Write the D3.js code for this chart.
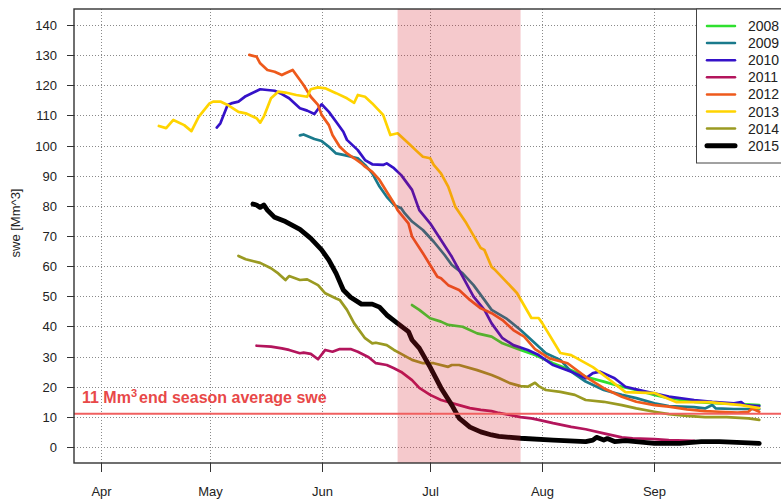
<!DOCTYPE html>
<html>
<head>
<meta charset="utf-8">
<script src="https://cdn.jsdelivr.net/npm/d3@7"></script>
<style>
  html, body { margin: 0; padding: 0; background: #fff; }
  svg { display: block; font-family: "Liberation Sans", Arial, Helvetica, sans-serif; }
</style>
</head>
<body>
<svg id="chart" width="781" height="499"></svg>
<script>
// Snow water equivalent per season, [month-day, swe in Mm^3]
const swe2008 = [["06-26",47.1],["06-28",45.5],["07-01",42.7],["07-04",41.6],["07-06",40.5],["07-10",39.9],["07-14",37.7],["07-18",36.6],["07-21",34.4],["07-26",32.2],["07-30",30.5],["08-04",27.8],["08-09",25.5],["08-13",23.3],["08-18",21.7],["08-23",20.0],["08-27",18.9],["09-01",17.3],["09-05",16.2],["09-12",15.0],["09-19",14.5],["09-24",14.3],["09-30",13.9]];
const swe2009 = [["05-26",103.4],["05-27",103.7],["05-30",102.2],["06-01",101.5],["06-03",99.6],["06-05",97.4],["06-07",96.9],["06-11",95.8],["06-13",93.6],["06-15",90.8],["06-17",86.4],["06-19",83.0],["06-21",80.3],["06-23",79.2],["06-24",77.5],["06-26",74.8],["06-29",72.0],["07-02",68.1],["07-05",63.7],["07-07",60.4],["07-10",57.6],["07-13",53.7],["07-16",48.8],["07-18",45.5],["07-22",42.7],["07-26",38.8],["07-30",34.4],["08-02",31.1],["08-06",28.9],["08-09",25.0],["08-13",21.7],["08-18",18.9],["08-23",17.3],["08-27",16.2],["09-01",14.5],["09-05",13.6],["09-12",13.2],["09-15",12.8],["09-17",13.9],["09-18",12.8],["09-23",12.6],["09-30",12.6]];
const swe2010 = [["05-03",106.0],["05-04",107.4],["05-06",113.5],["05-07",114.0],["05-09",114.6],["05-11",116.4],["05-15",118.7],["05-19",118.2],["05-21",117.1],["05-23",115.7],["05-26",112.4],["05-28",111.6],["05-30",110.5],["06-01",113.7],["06-03",111.2],["06-05",107.9],["06-07",104.6],["06-08",101.9],["06-11",98.5],["06-13",95.2],["06-15",93.8],["06-18",93.6],["06-19",94.1],["06-21",92.5],["06-23",90.2],["06-26",85.3],["06-28",78.6],["07-01",74.2],["07-04",68.7],["07-07",63.1],["07-10",56.5],["07-13",49.9],["07-16",45.5],["07-18",41.0],["07-21",36.1],["07-24",33.8],["07-28",32.2],["07-31",30.5],["08-04",27.2],["08-09",25.0],["08-13",22.8],["08-15",24.5],["08-17",25.0],["08-21",22.8],["08-24",20.0],["08-30",18.3],["09-05",16.7],["09-12",15.6],["09-17",15.0],["09-23",14.5],["09-25",14.9],["09-26",13.9],["09-30",13.6]];
const swe2011 = [["05-14",33.6],["05-18",33.3],["05-21",32.7],["05-23",32.2],["05-26",31.1],["05-27",31.3],["05-29",30.9],["05-31",29.1],["06-02",32.2],["06-04",31.6],["06-06",32.5],["06-09",32.5],["06-11",31.6],["06-14",29.8],["06-16",27.8],["06-19",27.2],["06-21",26.1],["06-23",24.9],["06-26",22.2],["06-28",19.6],["07-01",17.3],["07-04",15.6],["07-07",14.6],["07-09",13.9],["07-12",12.9],["07-15",12.3],["07-18",11.9],["07-20",11.3],["07-23",10.6],["07-26",9.9],["07-29",9.5],["07-31",9.0],["08-04",7.9],["08-09",6.7],["08-13",5.9],["08-18",4.5],["08-23",3.2],["08-26",2.9],["09-01",2.6],["09-05",2.3],["09-12",2.0]];
const swe2012 = [["05-12",130.1],["05-14",129.5],["05-15",127.3],["05-17",125.1],["05-19",124.5],["05-21",123.4],["05-22",124.0],["05-24",125.1],["05-25",123.4],["05-27",120.1],["05-29",116.2],["05-31",113.5],["06-01",110.2],["06-03",106.8],["06-04",103.5],["06-06",99.6],["06-08",97.4],["06-10",95.8],["06-12",94.1],["06-13",93.0],["06-15",91.3],["06-17",88.6],["06-19",84.7],["06-21",80.9],["06-22",78.6],["06-25",74.2],["06-26",69.8],["06-29",64.3],["07-01",60.4],["07-03",56.5],["07-04",56.0],["07-06",53.7],["07-09",52.1],["07-12",48.8],["07-15",46.0],["07-18",44.4],["07-21",42.1],["07-24",38.8],["07-27",36.6],["07-30",32.5],["08-03",29.4],["08-08",27.8],["08-13",23.3],["08-18",19.5],["08-23",16.7],["08-27",15.0],["09-01",13.9],["09-05",13.4],["09-10",12.5],["09-15",11.9],["09-19",11.7],["09-24",11.4],["09-27",11.7],["09-28",12.8],["09-30",11.7]];
const swe2013 = [["04-17",106.5],["04-19",105.8],["04-21",108.5],["04-24",106.8],["04-26",104.8],["04-28",109.5],["05-01",114.0],["05-02",114.6],["05-04",114.6],["05-06",113.5],["05-09",111.2],["05-11",110.7],["05-14",109.1],["05-15",107.6],["05-16",109.6],["05-18",115.7],["05-20",117.9],["05-22",117.6],["05-25",116.8],["05-28",116.2],["05-29",118.7],["05-31",119.3],["06-02",119.0],["06-05",117.4],["06-08",115.7],["06-10",114.2],["06-11",116.8],["06-13",116.2],["06-15",114.0],["06-18",110.2],["06-20",103.5],["06-22",104.1],["06-25",100.8],["06-27",98.5],["06-29",96.3],["07-01",95.8],["07-02",93.6],["07-04",90.8],["07-06",86.4],["07-07",83.0],["07-08",79.6],["07-11",74.3],["07-15",66.0],["07-16",65.4],["07-18",59.7],["07-19",58.7],["07-25",51.1],["07-29",42.8],["07-31",42.8],["08-01",41.1],["08-06",31.2],["08-09",30.5],["08-15",26.5],["08-19",22.9],["08-24",18.2],["09-01",17.9],["09-07",14.9],["09-16",14.9],["09-25",13.9],["09-30",12.9]];
const swe2014 = [["05-09",63.4],["05-11",62.3],["05-15",61.1],["05-18",59.3],["05-20",57.6],["05-22",55.4],["05-23",56.7],["05-26",55.4],["05-28",55.6],["05-31",53.7],["06-02",51.0],["06-05",49.3],["06-06",48.8],["06-08",45.5],["06-10",41.0],["06-13",36.1],["06-15",34.4],["06-16",34.6],["06-19",33.8],["06-21",32.2],["06-23",30.9],["06-26",28.9],["06-29",27.8],["07-02",27.8],["07-06",26.6],["07-07",27.2],["07-09",27.2],["07-14",25.5],["07-18",23.9],["07-20",22.9],["07-23",21.2],["07-26",20.2],["07-28",20.0],["07-30",21.3],["07-31",20.2],["08-02",18.9],["08-06",18.3],["08-10",17.3],["08-13",15.6],["08-18",15.0],["08-23",13.9],["08-27",12.8],["09-01",11.7],["09-05",10.9],["09-10",10.3],["09-15",9.9],["09-21",9.9],["09-27",9.5],["09-30",9.0]];
const swe2015 = [["05-13",80.6],["05-14",80.3],["05-15",79.5],["05-16",80.3],["05-17",78.6],["05-19",76.2],["05-22",74.8],["05-26",72.2],["05-29",69.2],["06-01",65.4],["06-03",62.0],["06-05",57.6],["06-07",52.1],["06-09",49.7],["06-12",47.4],["06-15",47.4],["06-17",46.4],["06-19",43.8],["06-22",41.0],["06-25",38.3],["06-26",35.5],["06-28",32.8],["07-01",26.5],["07-04",19.6],["07-07",13.9],["07-09",9.6],["07-12",6.6],["07-15",5.0],["07-18",4.0],["07-20",3.5],["07-26",2.9],["08-04",2.3],["08-13",1.8],["08-15",2.3],["08-16",3.2],["08-18",2.3],["08-19",2.8],["08-21",1.8],["08-24",2.1],["09-01",1.2],["09-08",1.2],["09-14",1.8],["09-19",1.8],["09-27",1.4],["09-30",1.2]];

const years = ["2008","2009","2010","2011","2012","2013","2014","2015"];
const seriesData = [swe2008, swe2009, swe2010, swe2011, swe2012, swe2013, swe2014, swe2015];
const colors = ["#2fe02f","#1a7a8c","#3512c8","#b3155c","#ee5a1c","#ffd400","#9a9a22","#000000"];
const widths = [2.7,2.7,2.7,2.7,2.7,2.7,2.7,4.8];

const monthTicks = ["04-01","05-01","06-01","07-01","08-01","09-01"];
const yTicks = [0,10,20,30,40,50,60,70,80,90,100,110,120,130,140];
const shadePeriod = ["06-22","07-26"];
const avgEndSwe = 11;

const parse = s => d3.utcParse("%Y-%m-%d")("2015-" + s);
const dayMs = 864e5;

const svg = d3.select("#chart");
const L = 74, R = 790, T = 9, B = 463;

const apr1 = parse("04-01");
const x = d3.scaleUtc()
  .domain([new Date(+apr1 - 7.47 * dayMs), new Date(+apr1 + 190.5 * dayMs)])
  .range([L, R]);
const y = d3.scaleLinear().domain([-5.31, 145.32]).range([B, T]);

// dotted grid
const grid = svg.append("g").attr("stroke", "#8a8a8a").attr("stroke-width", 1)
  .attr("stroke-dasharray", "1,2").attr("fill", "none");
yTicks.forEach(v => {
  grid.append("line").attr("x1", L).attr("x2", R)
    .attr("y1", Math.round(y(v)) + 0.5).attr("y2", Math.round(y(v)) + 0.5);
});
monthTicks.forEach(m => {
  const xx = Math.round(x(parse(m))) + 0.5;
  grid.append("line").attr("x1", xx).attr("x2", xx).attr("y1", T).attr("y2", B);
});

// season curves
const line = d3.line().x(d => x(parse(d[0]))).y(d => y(d[1]));
const curves = svg.append("g").attr("fill", "none")
  .attr("stroke-linejoin", "round").attr("stroke-linecap", "round");
seriesData.forEach((data, i) => {
  curves.append("path").datum(data)
    .attr("d", line)
    .attr("stroke", colors[i])
    .attr("stroke-width", widths[i]);
});

// melt period highlight
svg.append("rect")
  .attr("x", x(parse(shadePeriod[0])))
  .attr("y", T)
  .attr("width", x(parse(shadePeriod[1])) - x(parse(shadePeriod[0])))
  .attr("height", B - T)
  .attr("fill", "rgb(215,30,40)")
  .attr("fill-opacity", 0.24);

// end-of-season average
svg.append("line")
  .attr("x1", L).attr("x2", R)
  .attr("y1", y(avgEndSwe)).attr("y2", y(avgEndSwe))
  .attr("stroke", "#f06060").attr("stroke-width", 2);

const avgLabel = svg.append("text")
  .attr("x", 82).attr("y", y(avgEndSwe) - 11)
  .attr("fill", "#e84848").attr("font-weight", "bold").attr("font-size", 16);
avgLabel.append("tspan").text(avgEndSwe + " Mm");
avgLabel.append("tspan").attr("dy", -6).attr("font-size", 11).text("3");
avgLabel.append("tspan").attr("dy", 6).attr("dx", 2).text("end season average swe");

// frame
svg.append("rect").attr("x", L).attr("y", T).attr("width", R - L).attr("height", B - T)
  .attr("fill", "none").attr("stroke", "#333").attr("stroke-width", 1.4);

// axes
const yAxis = svg.append("g");
yTicks.forEach(v => {
  const yy = Math.round(y(v)) + 0.5;
  yAxis.append("line").attr("x1", L - 7).attr("x2", L).attr("y1", yy).attr("y2", yy)
    .attr("stroke", "#333");
  yAxis.append("text").attr("x", 57).attr("y", yy).attr("dy", "0.36em")
    .attr("text-anchor", "end").attr("font-size", 13).attr("fill", "#222").text(v);
});
svg.append("text")
  .attr("transform", "translate(20,223) rotate(-90)")
  .attr("text-anchor", "middle").attr("font-size", 13).attr("fill", "#222")
  .text("swe [Mm^3]");

const fmt = d3.utcFormat("%b");
monthTicks.forEach(m => {
  const xx = Math.round(x(parse(m))) + 0.5;
  svg.append("line").attr("x1", xx).attr("x2", xx).attr("y1", B).attr("y2", B + 9)
    .attr("stroke", "#333");
  svg.append("text").attr("x", xx).attr("y", 496).attr("text-anchor", "middle")
    .attr("font-size", 13).attr("fill", "#222").text(fmt(parse(m)));
});

// legend
const lg = svg.append("g");
lg.append("rect").attr("x", 696.5).attr("y", T).attr("width", R - 696.5).attr("height", 154)
  .attr("fill", "#fff").attr("stroke", "#444").attr("stroke-width", 1);
years.forEach((yr, i) => {
  const ly = 26 + i * 17.1;
  lg.append("line").attr("x1", 707).attr("x2", 735).attr("y1", ly).attr("y2", ly)
    .attr("stroke", colors[i]).attr("stroke-width", i === 7 ? 5 : 2.5)
    .attr("stroke-linecap", "round");
  lg.append("text").attr("x", 748).attr("y", ly).attr("dy", "0.36em")
    .attr("font-size", 14).attr("fill", "#222").text(yr);
});
</script>
</body>
</html>
